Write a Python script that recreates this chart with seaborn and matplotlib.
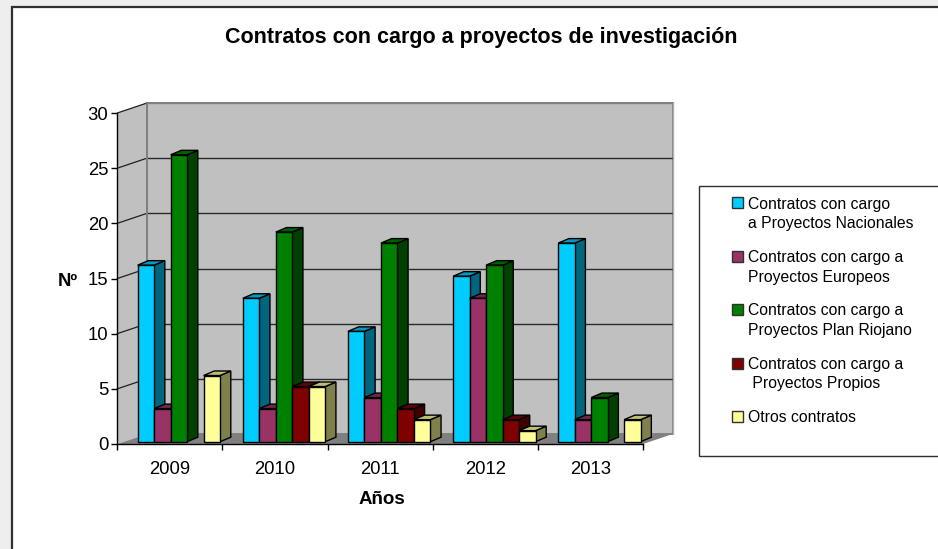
import matplotlib
matplotlib.use("Agg")
import matplotlib.pyplot as plt
import matplotlib.transforms as mtrans
from matplotlib.patches import Rectangle, Polygon, Patch
from matplotlib.colors import to_rgb
import pandas as pd
import seaborn as sns

years = ["2009", "2010", "2011", "2012", "2013"]
nacionales = [16, 13, 10, 15, 18]
europeos = [3, 3, 4, 13, 2]
riojano = [26, 19, 18, 16, 4]
propios = [0, 5, 3, 2, 0]
otros = [6, 5, 2, 1, 2]
series = [
    "Contratos con cargo\na Proyectos Nacionales",
    "Contratos con cargo a\nProyectos Europeos",
    "Contratos con cargo a\nProyectos Plan Riojano",
    "Contratos con cargo a\n Proyectos Propios",
    "Otros contratos",
]
colors = ["#00CCFF", "#993366", "#008000", "#800000", "#FFFF99"]
yticks = [0, 5, 10, 15, 20, 25, 30]

W, H = 938, 549
sns.set_theme(style="white")
plt.rcParams["font.family"] = ["Liberation Sans", "DejaVu Sans"]
fig = plt.figure(figsize=(W / 100, H / 100), dpi=100, facecolor="#EEEEEE")

def fx(px): return px / W
def fy(py): return 1 - py / H

# white chart panel
fig.add_artist(Rectangle((fx(12), -0.01), 1 - fx(12) + 0.01, fy(6.5) + 0.01, transform=fig.transFigure,
                         facecolor="white", edgecolor="#303030", linewidth=1.6, zorder=-2))

L, R, T, B = 117.3, 643.0, 113.0, 444.0
ax = fig.add_axes([fx(L), fy(B), fx(R - L), fy(T) - fy(B)])
ax.patch.set_visible(False)

df = pd.DataFrame({"Año": years * 5,
                   "Serie": [s for s in series for _ in years],
                   "n": nacionales + europeos + riojano + propios + otros})
sns.barplot(data=df, x="Año", y="n", hue="Serie", order=years, hue_order=series,
            palette=colors, saturation=1, width=0.784, gap=0, legend=False,
            edgecolor="black", linewidth=1.0, ax=ax)
ax.set_xlim(-0.5, 4.5)
ax.set_ylim(0, 30)
fig.canvas.draw()

def shift(dx, dy):
    return ax.transData + mtrans.Affine2D().translate(dx, dy)

# 3-D box: walls and floor
BDX, BDY = 29.7, 10.0
ident = mtrans.IdentityTransform()
def P(x, y, dx=0, dy=0):
    a = ax.transData.transform((x, y))
    return (a[0] + dx, a[1] + dy)

x0, x1 = ax.get_xlim()
ax.add_patch(Rectangle((x0, 0), x1 - x0, 30, transform=shift(BDX, BDY), facecolor="#C0C0C0",
                       edgecolor="#808080", linewidth=1.4, zorder=0.1, clip_on=False))
ax.add_patch(Polygon([P(x0, 0), P(x0, 30), P(x0, 30, BDX, BDY), P(x0, 0, BDX, BDY)], closed=True,
                     transform=ident, facecolor="#C0C0C0", edgecolor="none", zorder=0.2, clip_on=False))
ax.add_patch(Polygon([P(x0, 0), P(x1, 0), P(x1, 0, BDX, BDY), P(x0, 0, BDX, BDY)], closed=True,
                     transform=ident, facecolor="#808080", edgecolor="none", zorder=0.3, clip_on=False))
for v in yticks[1:]:
    col = "#808080" if v == 30 else "#2A2A2A"
    ax.plot([x0, x1], [v, v], transform=shift(BDX, BDY), color=col, lw=1.0, zorder=0.25, clip_on=False)
    ax.plot(*zip(P(x0, v), P(x0, v, BDX, BDY)), transform=ident, color="#202020", lw=0.9, zorder=0.25, clip_on=False)
ax.plot(*zip(P(x0, 0, BDX, BDY), P(x0, 30, BDX, BDY)), transform=ident, color="#808080", lw=1.4, zorder=0.26, clip_on=False)
ax.plot(*zip(P(x1, 0, BDX, BDY), P(x1, 30, BDX, BDY)), transform=ident, color="#B0B0B0", lw=1.0, zorder=0.26, clip_on=False)

# extrude every seaborn bar
FDX, FDY = 9.0, 2.3      # bar front-face offset from the axis plane
DDX, DDY = 10.7, 4.5     # bar depth
move = shift(FDX, FDY)
def shade(c, f):
    return tuple(v * f for v in to_rgb(c))
for k, cont in enumerate(ax.containers):
    base = colors[k]
    for bar in cont:
        h = bar.get_height()
        if h <= 0:
            bar.set_visible(False)
            continue
        bx, bw = bar.get_x(), bar.get_width()
        z = 2 + k
        bar.set_transform(move)
        bar.set_clip_on(False)
        bar.set_zorder(z + 0.5)
        side = [P(bx + bw, 0, FDX, FDY), P(bx + bw, h, FDX, FDY),
                P(bx + bw, h, FDX + DDX, FDY + DDY), P(bx + bw, 0, FDX + DDX, FDY + DDY)]
        top = [P(bx, h, FDX, FDY), P(bx + bw, h, FDX, FDY),
               P(bx + bw, h, FDX + DDX, FDY + DDY), P(bx, h, FDX + DDX, FDY + DDY)]
        ax.add_patch(Polygon(side, closed=True, transform=ident, facecolor=shade(base, 0.5),
                             edgecolor="black", linewidth=1.0, zorder=z + 0.2, clip_on=False))
        ax.add_patch(Polygon(top, closed=True, transform=ident, facecolor=shade(base, 0.75),
                             edgecolor="black", linewidth=1.0, zorder=z + 0.3, clip_on=False))

# axes
for s in ["top", "right"]:
    ax.spines[s].set_visible(False)
for s in ["left", "bottom"]:
    ax.spines[s].set_color("black")
    ax.spines[s].set_linewidth(1.0)
    ax.spines[s].set_zorder(1)
ax.set_yticks(yticks)
ax.set_xticks(range(len(years)), years)
ax.set_xticks([i - 0.5 for i in range(len(years) + 1)], minor=True)
ax.tick_params(axis="x", which="major", length=0, pad=12, labelsize=13.3, colors="black")
ax.tick_params(axis="x", which="minor", length=4.5, width=1.0, color="black", bottom=True)
ax.tick_params(axis="y", which="major", length=4.5, width=1.0, color="black", left=True,
               pad=2, labelsize=13.3, labelcolor="black")
ax.set_xlabel("")
ax.set_ylabel("")

fig.suptitle("Contratos con cargo a proyectos de investigación", x=fx(481), y=fy(37), va="center",
             ha="center", fontsize=15.5, fontweight="bold", color="black")
fig.text(fx(68), fy(281.5), "Nº", fontsize=13.3, fontweight="bold", ha="center", va="center", color="black")
fig.text(fx(381.5), fy(500), "Años", fontsize=13.5, fontweight="bold", ha="center", va="center", color="black")

# legend
fig.add_artist(Rectangle((fx(698.7), fy(456)), 1, fy(186) - fy(456), transform=fig.transFigure,
                         facecolor="white", edgecolor="#303030", linewidth=1.0, zorder=-1))
handles = [Patch(facecolor=c, edgecolor="#303030", linewidth=1.0) for c in colors]
leg = fig.legend(handles, series, loc="upper left", bbox_to_anchor=(fx(728.5), fy(193.5)),
                 frameon=False, fontsize=11.3, handlelength=0.7, handleheight=0.7,
                 handletextpad=0.32, labelspacing=1.2, borderpad=0.2, borderaxespad=0,
                 labelcolor="black")
for t in leg.get_texts():
    t.set_linespacing(1.38)
for h, s in zip(leg.legend_handles, series):
    if "\n" in s:
        h.set_y(h.get_y() + 8.3)

fig.savefig("out.png", dpi=100, facecolor=fig.get_facecolor())
